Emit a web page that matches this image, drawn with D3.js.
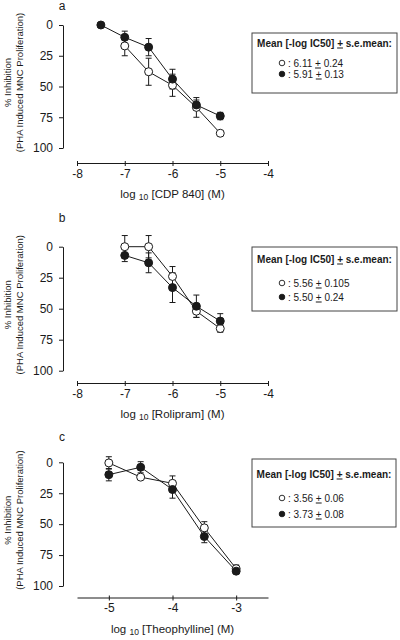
<!DOCTYPE html>
<html>
<head>
<meta charset="utf-8">
<script src="https://cdn.jsdelivr.net/npm/d3@7"></script>
<style>
  html, body { margin: 0; padding: 0; background: #fff; }
  svg { display: block; font-family: "Liberation Sans", Arial, sans-serif; }
</style>
</head>
<body>
<svg id="chart" width="400" height="640"></svg>
<script>
// ---------- DATA ----------
const panelLabels = ["a", "b", "c"];
const drugNames = ["CDP 840", "Rolipram", "Theophylline"];
const yTicks = [0, 25, 50, 75, 100];
const xTicksAB = [-8, -7, -6, -5, -4];
const xTicksC = [-5, -4, -3];

// Panel a: CDP 840
const cdpDoseOpen = [-7, -6.5, -6, -5.5, -5];
const cdpOpen = [17, 38, 49, 67, 88];
const cdpOpenErr = [8, 11, 9, 8, 2];
const cdpDoseClosed = [-7.5, -7, -6.5, -6, -5.5, -5];
const cdpClosed = [0, 10, 18, 44, 65, 74];
const cdpClosedErr = [0, 5, 7, 8, 4, 3];

// Panel b: Rolipram
const roliDose = [-7, -6.5, -6, -5.5, -5];
const roliOpen = [0, 0, 24, 52, 66];
const roliOpenErr = [9, 9, 8, 5, 3];
const roliClosed = [7, 13, 33, 48, 60];
const roliClosedErr = [5, 8, 12, 9, 6];

// Panel c: Theophylline
const theoDose = [-5, -4.5, -4, -3.5, -3];
const theoOpen = [0.5, 12, 17, 53, 86];
const theoOpenErr = [5, 0, 6, 5, 3];
const theoClosed = [10, 4, 22, 60, 88];
const theoClosedErr = [5, 4.5, 7, 5, 2];

// Legend values
const legendTitle = "Mean [-log IC50] ";
const legendOpen = [["6.11", "0.24"], ["5.56", "0.105"], ["3.56", "0.06"]];
const legendClosed = [["5.91", "0.13"], ["5.50", "0.24"], ["3.73", "0.08"]];

// ---------- LAYOUT ----------
const ink = "#1a1a1a";
const svg = d3.select("#chart");

const panels = [
  { label: panelLabels[0], drug: drugNames[0], xDomain: [-8, -4], xTicks: xTicksAB,
    y0: 25, y1: 148, xAxisY: 163, labelY: 10,
    legendBox: [252, 33, 397, 93], legendRows: [43, 63, 74],
    open: { dose: cdpDoseOpen, v: cdpOpen, e: cdpOpenErr },
    closed: { dose: cdpDoseClosed, v: cdpClosed, e: cdpClosedErr },
    leg: 0 },
  { label: panelLabels[1], drug: drugNames[1], xDomain: [-8, -4], xTicks: xTicksAB,
    y0: 246.7, y1: 370.7, xAxisY: 383, labelY: 222,
    legendBox: [252, 247, 397, 311], legendRows: [259, 283, 297],
    open: { dose: roliDose, v: roliOpen, e: roliOpenErr },
    closed: { dose: roliDose, v: roliClosed, e: roliClosedErr },
    leg: 1 },
  { label: panelLabels[2], drug: drugNames[2], xDomain: [-5.5, -2.5], xTicks: xTicksC,
    y0: 462.3, y1: 586, xAxisY: 597.5, labelY: 441,
    legendBox: [252, 459, 396, 527], legendRows: [474, 498, 514],
    open: { dose: theoDose, v: theoOpen, e: theoOpenErr },
    closed: { dose: theoDose, v: theoClosed, e: theoClosedErr },
    leg: 2 }
];

const xLeft = 77, xRight = 268, yAxisX = 63;

panels.forEach(p => {
  const g = svg.append("g");
  const x = d3.scaleLinear().domain(p.xDomain).range([xLeft, xRight]);
  const y = d3.scaleLinear().domain([0, 100]).range([p.y0, p.y1]);

  // panel letter
  g.append("text").attr("x", 62).attr("y", p.labelY).attr("text-anchor", "middle")
    .attr("font-size", 12).attr("fill", ink).text(p.label);

  // y axis
  const ya = g.append("g").attr("transform", `translate(${yAxisX},0)`)
    .call(d3.axisLeft(y).tickValues(yTicks).tickSize(4).tickPadding(6).tickSizeOuter(0));
  ya.select(".domain").attr("stroke", ink);
  ya.selectAll(".tick line").attr("stroke", ink);
  ya.selectAll(".tick text").attr("font-size", 12).attr("fill", ink)
    .attr("font-family", "Liberation Sans, Arial, sans-serif");

  // y title
  const yc = (p.y0 + p.y1) / 2 - 4;
  const yt = g.append("text").attr("transform", `translate(0,${yc}) rotate(-90)`)
    .attr("text-anchor", "middle").attr("font-size", 9.5).attr("fill", ink);
  yt.append("tspan").attr("x", 0).attr("y", 11).text("% Inhibition");
  yt.append("tspan").attr("x", 0).attr("y", 23).text("(PHA Induced MNC Proliferation)");

  // x axis
  const xa = g.append("g").attr("transform", `translate(0,${p.xAxisY})`)
    .call(d3.axisBottom(x).tickValues(p.xTicks).tickFormat(d3.format("d")).tickSize(3).tickPadding(3).tickSizeOuter(0));
  xa.select(".domain").attr("stroke", ink);
  xa.selectAll(".tick line").attr("stroke", ink).attr("y1", -2);
  xa.selectAll(".tick text").attr("font-size", 12).attr("fill", ink)
    .attr("font-family", "Liberation Sans, Arial, sans-serif")
    .text(d => d < 0 ? "-" + Math.abs(d) : d);

  // x title
  const xt = g.append("text").attr("x", (xLeft + xRight) / 2).attr("y", p.xAxisY + 35)
    .attr("text-anchor", "middle").attr("font-size", 11.5).attr("fill", ink);
  xt.append("tspan").text("log ");
  xt.append("tspan").attr("font-size", 8.5).attr("dy", 2).text("10");
  xt.append("tspan").attr("dy", -2).text(` [${p.drug}] (M)`);

  const series = [
    { s: p.open, fill: "#fff" },
    { s: p.closed, fill: ink }
  ];
  const line = d3.line().x(d => x(d.dose)).y(d => y(d.v));
  const pts = series.map(sr => sr.s.dose.map((d, i) => ({ dose: d, v: sr.s.v[i], e: sr.s.e[i], fill: sr.fill })));

  // lines
  pts.forEach(arr => {
    g.append("path").datum(arr).attr("d", line).attr("fill", "none")
      .attr("stroke", ink).attr("stroke-width", 1);
  });
  // error bars
  pts.forEach(arr => {
    arr.filter(d => d.e > 0).forEach(d => {
      const cx = x(d.dose), ya_ = y(d.v - d.e), yb = y(d.v + d.e);
      g.append("line").attr("x1", cx).attr("x2", cx).attr("y1", ya_).attr("y2", yb)
        .attr("stroke", ink).attr("stroke-width", 1);
      [ya_, yb].forEach(yy => g.append("line").attr("x1", cx - 3).attr("x2", cx + 3)
        .attr("y1", yy).attr("y2", yy).attr("stroke", ink).attr("stroke-width", 1));
    });
  });
  // markers
  pts.forEach(arr => {
    g.selectAll(null).data(arr).enter().append("circle")
      .attr("cx", d => x(d.dose)).attr("cy", d => y(d.v)).attr("r", 4)
      .attr("fill", d => d.fill).attr("stroke", ink).attr("stroke-width", 1);
  });

  // legend
  const [bx0, by0, bx1, by1] = p.legendBox;
  g.append("rect").attr("x", bx0).attr("y", by0).attr("width", bx1 - bx0).attr("height", by1 - by0)
    .attr("fill", "#fff").attr("stroke", "#444").attr("stroke-width", 1);
  const lt = g.append("text").attr("x", (bx0 + bx1) / 2).attr("y", p.legendRows[0] + 3.5)
    .attr("text-anchor", "middle").attr("font-size", 10).attr("font-weight", "bold").attr("fill", ink);
  lt.append("tspan").text(legendTitle);
  lt.append("tspan").attr("text-decoration", "underline").text("+");
  lt.append("tspan").text(" s.e.mean:");

  const rows = [
    { vals: legendOpen[p.leg], fill: "#fff", y: p.legendRows[1] },
    { vals: legendClosed[p.leg], fill: ink, y: p.legendRows[2] }
  ];
  rows.forEach(r => {
    g.append("circle").attr("cx", 282).attr("cy", r.y).attr("r", 2.8)
      .attr("fill", r.fill).attr("stroke", ink).attr("stroke-width", 0.9);
    const t = g.append("text").attr("x", 288).attr("y", r.y + 3.5).attr("font-size", 10).attr("fill", ink);
    t.append("tspan").text(`: ${r.vals[0]} `);
    t.append("tspan").attr("text-decoration", "underline").text("+");
    t.append("tspan").text(` ${r.vals[1]}`);
  });
});
</script>
</body>
</html>
